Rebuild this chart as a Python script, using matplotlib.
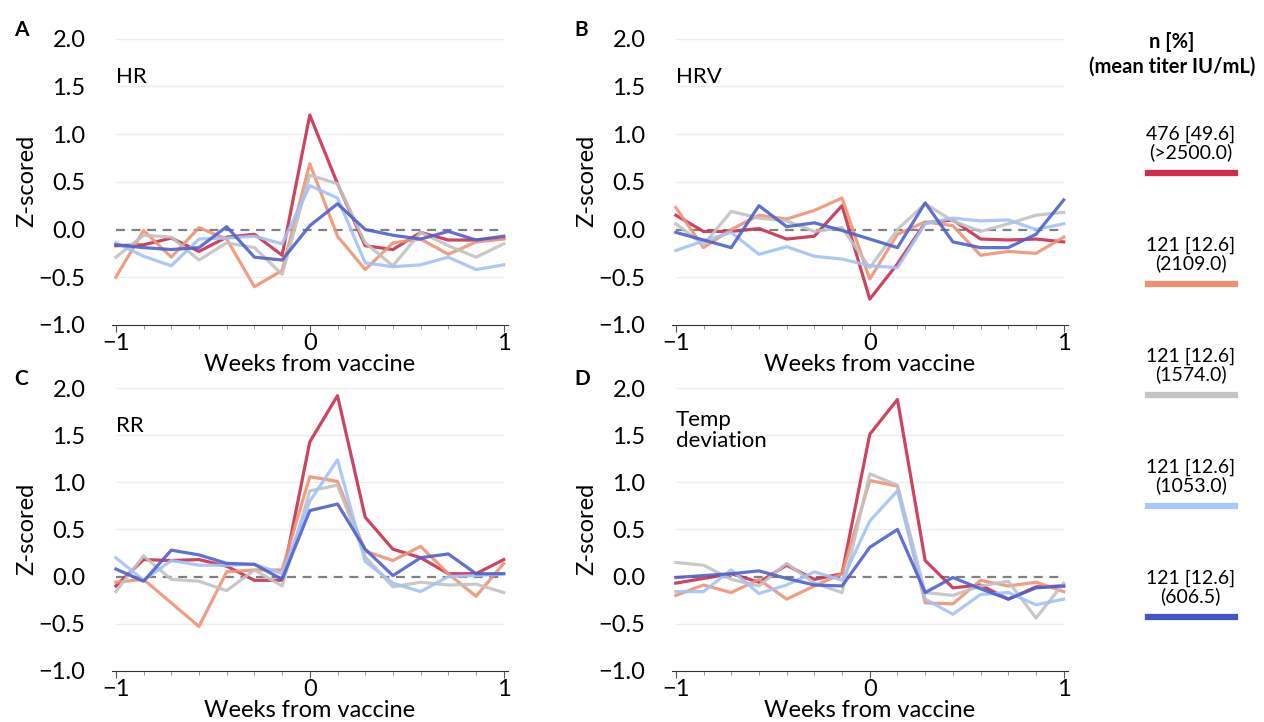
import numpy as np
import matplotlib.pyplot as plt
from matplotlib.lines import Line2D

plt.rcParams['font.family'] = ['Lato', 'DejaVu Sans']

days = np.arange(-7, 8)
weeks = days / 7

groups = ['476 [49.6]\n(>2500.0)', '121 [12.6]\n(2109.0)', '121 [12.6]\n(1574.0)',
          '121 [12.6]\n(1053.0)', '121 [12.6]\n(606.5)']
colors = ['#c8304f', '#ee9474', '#c2c2c2', '#a3c2f8', '#4e62cc']
legend_colors = ['#d42a4f', '#ef8f6e', '#c4c4c4', '#a9c8fa', '#4455c8']

hr = [
    [-0.17, -0.16, -0.09, -0.23, -0.08, -0.05, -0.27, 1.20, 0.48, -0.17, -0.21, -0.03, -0.11, -0.11, -0.09],
    [-0.50, -0.01, -0.29, 0.02, -0.10, -0.60, -0.43, 0.69, -0.07, -0.42, -0.14, -0.10, -0.26, -0.13, -0.10],
    [-0.29, -0.06, -0.08, -0.32, -0.14, -0.19, -0.47, 0.57, 0.48, -0.14, -0.38, -0.03, -0.17, -0.29, -0.15],
    [-0.14, -0.28, -0.38, -0.10, -0.09, -0.07, -0.15, 0.46, 0.33, -0.35, -0.39, -0.37, -0.29, -0.42, -0.37],
    [-0.16, -0.19, -0.21, -0.19, 0.03, -0.29, -0.32, 0.04, 0.27, 0.00, -0.06, -0.10, -0.02, -0.11, -0.07],
]
hrv = [
    [0.15, -0.02, -0.02, 0.01, -0.10, -0.07, 0.25, -0.73, -0.36, 0.07, 0.10, -0.10, -0.11, -0.10, -0.13],
    [0.23, -0.19, 0.00, 0.15, 0.11, 0.20, 0.33, -0.52, -0.05, 0.08, 0.04, -0.27, -0.23, -0.25, -0.08],
    [0.06, -0.16, 0.19, 0.12, 0.09, -0.02, 0.02, -0.40, 0.00, 0.27, 0.09, -0.02, 0.06, 0.15, 0.18],
    [-0.22, -0.12, -0.03, -0.26, -0.18, -0.28, -0.31, -0.38, -0.40, 0.06, 0.12, 0.09, 0.10, 0.00, 0.06],
    [-0.03, -0.11, -0.19, 0.25, 0.03, 0.07, -0.01, -0.10, -0.19, 0.28, -0.13, -0.19, -0.19, -0.05, 0.31],
]
rr = [
    [-0.10, 0.18, 0.17, 0.18, 0.11, -0.04, -0.04, 1.43, 1.92, 0.63, 0.29, 0.20, 0.03, 0.03, 0.18],
    [-0.06, -0.03, -0.28, -0.53, 0.05, 0.07, 0.07, 1.06, 1.01, 0.27, 0.17, 0.32, 0.03, -0.21, 0.14],
    [-0.16, 0.22, -0.03, -0.05, -0.15, 0.07, -0.10, 0.91, 0.97, 0.21, -0.11, -0.06, -0.09, -0.08, -0.17],
    [0.20, -0.04, 0.17, 0.12, 0.12, 0.13, 0.03, 0.80, 1.24, 0.16, -0.07, -0.16, 0.00, 0.01, 0.03],
    [0.08, -0.05, 0.28, 0.23, 0.14, 0.13, -0.03, 0.70, 0.77, 0.29, 0.01, 0.20, 0.24, 0.03, 0.03],
]
temp = [
    [-0.07, -0.02, 0.03, -0.06, 0.12, -0.03, 0.03, 1.51, 1.88, 0.17, -0.12, -0.09, -0.24, -0.11, -0.10],
    [-0.20, -0.09, -0.17, -0.03, -0.24, -0.10, 0.03, 1.02, 0.96, -0.28, -0.29, -0.04, -0.10, -0.06, -0.16],
    [0.15, 0.12, -0.03, -0.10, 0.14, -0.07, -0.17, 1.09, 0.97, -0.17, -0.20, -0.10, -0.05, -0.44, -0.07],
    [-0.16, -0.16, 0.07, -0.18, -0.09, 0.05, -0.04, 0.59, 0.91, -0.24, -0.40, -0.19, -0.17, -0.30, -0.24],
    [-0.01, 0.01, 0.03, 0.06, -0.02, -0.09, -0.10, 0.31, 0.50, -0.17, -0.01, -0.13, -0.24, -0.12, -0.10],
]

panels = [('A', 'HR', hr), ('B', 'HRV', hrv), ('C', 'RR', rr), ('D', 'Temp\ndeviation', temp)]
boxes = [[0.0886, 0.550, 0.313, 0.399], [0.5316, 0.550, 0.313, 0.399],
         [0.0886, 0.071, 0.313, 0.394], [0.5316, 0.071, 0.313, 0.394]]

fig = plt.figure(figsize=(12.64, 7.22), dpi=100)

for (letter, name, data), box in zip(panels, boxes):
    ax = fig.add_axes(box)
    ax.set_xlim(-1.02, 1.02)
    ax.set_ylim(-1.0, 2.02)
    for yv in [-0.5, 0.5, 1.0, 1.5, 2.0]:
        ax.hlines(yv, -1, 1, color='#ececec', lw=1, zorder=0)
    ax.hlines(0, -1, 1, color='#808080', lw=1.6, ls=(0, (4, 3)), zorder=1)
    for vals, c in zip(data, colors):
        ax.plot(weeks, vals, color=c, lw=2.3, alpha=0.9, zorder=2)
    for s in ['left', 'right', 'top']:
        ax.spines[s].set_visible(False)
    ax.spines['bottom'].set_color('#333333')
    ax.set_xticks([-1, 0, 1])
    ax.set_xticklabels(['\u22121', '0', '1'])
    ax.set_xticks(weeks, minor=True)
    ax.tick_params(axis='x', which='major', length=5, width=0.8, color='#555555',
                   labelsize=17, pad=1)
    ax.tick_params(axis='x', which='minor', length=3, width=0.6, color='#888888')
    ax.set_yticks([-1.0, -0.5, 0.0, 0.5, 1.0, 1.5, 2.0])
    ax.set_yticklabels(['\u22121.0', '\u22120.5', '0.0', '0.5', '1.0', '1.5', '2.0'])
    ax.tick_params(axis='y', length=0, labelsize=17, pad=19)
    ax.set_xlabel('Weeks from vaccine', fontsize=17, labelpad=0)
    ax.set_ylabel('Z-scored', fontsize=17, labelpad=1)
    ax.text(-1, 1.55 if '\n' in name else 1.6, name, fontsize=16, va='center',
            ha='left', linespacing=1.05)
    ax.text(-0.247, 1.025, letter, transform=ax.transAxes, fontsize=15,
            fontweight='bold', va='center', ha='left')

fig.text(0.927, 0.942, 'n [%]', ha='center', va='center', fontsize=14.5, fontweight='bold')
fig.text(0.927, 0.907, '(mean titer IU/mL)', ha='center', va='center', fontsize=14.5,
         fontweight='bold')
for i, (label, c) in enumerate(zip(groups, legend_colors)):
    yc = 0.801 - i * 0.1537
    fig.text(0.942, yc, label, ha='center', va='center', fontsize=14, linespacing=1.0)
    fig.add_artist(Line2D([0.908, 0.977], [yc - 0.041] * 2, color=c, lw=4.5,
                          transform=fig.transFigure))

fig.savefig('out.png', dpi=100)
